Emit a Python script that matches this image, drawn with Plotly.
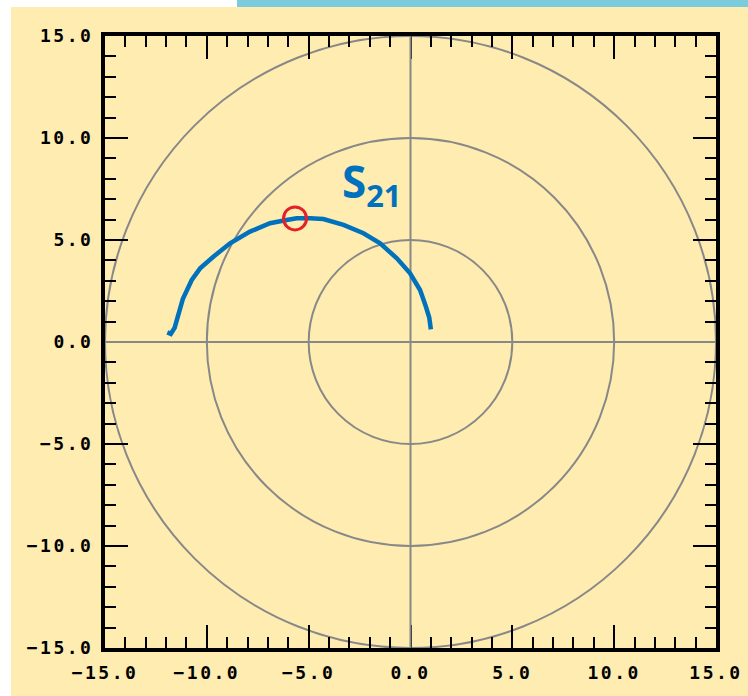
import plotly.graph_objects as go

# ---- data ----
AXIS_RANGE = [-15, 15]
MAJOR_TICKS = [-15, -10, -5, 0, 5, 10, 15]
TICK_LABELS = ["\u221215.0", "\u221210.0", "\u22125.0", "0.0", "5.0", "10.0", "15.0"]
RING_RADII = [5, 10, 15]
CROSS_H_X = [-15, 15]
CROSS_H_Y = [0, 0]
CROSS_V_X = [0, 0]
CROSS_V_Y = [-15, 15]
S21_RE = [-11.94, -11.77, -11.58, -11.42, -11.18, -10.74, -10.33, -9.68, -8.86, -7.88,
          -6.90, -6.08, -5.59, -4.93, -4.28, -3.29, -2.31, -1.49, -0.67, -0.02,
          0.47, 0.75, 0.92, 1.00]
S21_IM = [0.47, 0.40, 0.70, 1.35, 2.10, 3.04, 3.61, 4.18, 4.84, 5.41,
          5.82, 5.98, 6.07, 6.07, 6.03, 5.74, 5.33, 4.84, 4.10, 3.37,
          2.55, 1.75, 1.20, 0.62]
MARK_RE = [-5.67]
MARK_IM = [6.06]
LABEL_TEXT = "S<sub>21</sub>"

YELLOW = "#FEECB0"
BLUE = "#0071BC"
GRAY = "#888888"

W, H = 748, 696
ML, MR, MT, MB = 105, 32, 36, 48
PW, PH = W - ML - MR, H - MT - MB


def px2paper_x(px):
    return (px - ML) / PW


def px2paper_y(py):
    return (H - MB - py) / PH


fig = go.Figure()

# guide cross lines
fig.add_trace(go.Scatter(x=CROSS_H_X, y=CROSS_H_Y, mode="lines",
                         line=dict(color=GRAY, width=2), hoverinfo="skip", showlegend=False))
fig.add_trace(go.Scatter(x=CROSS_V_X, y=CROSS_V_Y, mode="lines",
                         line=dict(color=GRAY, width=2), hoverinfo="skip", showlegend=False))

# S21 curve
fig.add_trace(go.Scatter(x=S21_RE, y=S21_IM, mode="lines",
                         line=dict(color=BLUE, width=4.5), showlegend=False))
# marker
fig.add_trace(go.Scatter(x=MARK_RE, y=MARK_IM, mode="markers",
                         marker=dict(symbol="circle-open", size=23, color="#E4202A",
                                     line=dict(width=3, color="#E4202A")),
                         showlegend=False))

shapes = []
for r in RING_RADII:
    shapes.append(dict(type="circle", xref="x", yref="y", x0=-r, x1=r, y0=-r, y1=r,
                       line=dict(color=GRAY, width=2), layer="below"))

# white margins and blue bar
shapes.append(dict(type="rect", xref="paper", yref="paper",
                   x0=-0.3, x1=px2paper_x(11), y0=-0.2, y1=1.2,
                   fillcolor="white", line=dict(width=0), layer="above"))
shapes.append(dict(type="rect", xref="paper", yref="paper",
                   x0=-0.3, x1=px2paper_x(237), y0=px2paper_y(7), y1=1.2,
                   fillcolor="white", line=dict(width=0), layer="above"))
shapes.append(dict(type="rect", xref="paper", yref="paper",
                   x0=px2paper_x(237), x1=1.2, y0=px2paper_y(7), y1=1.2,
                   fillcolor="#7CCBDD", line=dict(width=0), layer="above"))

labels = ['<span style="letter-spacing:2.5px">%s</span>' % t for t in TICK_LABELS]

axis_common = dict(
    range=AXIS_RANGE,
    tickmode="array",
    tickvals=MAJOR_TICKS,
    ticktext=labels,
    ticks="inside",
    ticklen=23,
    tickwidth=2,
    tickcolor="black",
    showline=True,
    linewidth=4,
    linecolor="black",
    mirror="ticks",
    showgrid=False,
    zeroline=False,
    layer="below traces",
    tickfont=dict(family="DejaVu Sans Mono", size=18, color="black", weight="bold"),
    minor=dict(ticks="inside", ticklen=11, tickwidth=2, tickcolor="black",
               tickmode="linear", tick0=0, dtick=1, showgrid=False),
    fixedrange=True,
)

fig.update_layout(
    width=W, height=H,
    margin=dict(l=ML, r=MR, t=MT, b=MB, autoexpand=False),
    paper_bgcolor=YELLOW,
    plot_bgcolor="rgba(0,0,0,0)",
    xaxis=dict(axis_common, ticklabelstandoff=5),
    yaxis=dict(axis_common, ticklabelstandoff=4),
    shapes=shapes,
    showlegend=False,
    annotations=[dict(x=-3.45, y=7.75, xref="x", yref="y", text=LABEL_TEXT,
                      showarrow=False, xanchor="left", yanchor="middle",
                      font=dict(family="Open Sans", size=44, color=BLUE, weight=700))],
)

fig.write_html("out.html",
               config={"displayModeBar": False},
               post_script="document.body.style.margin='0';document.body.style.overflow='hidden';")
